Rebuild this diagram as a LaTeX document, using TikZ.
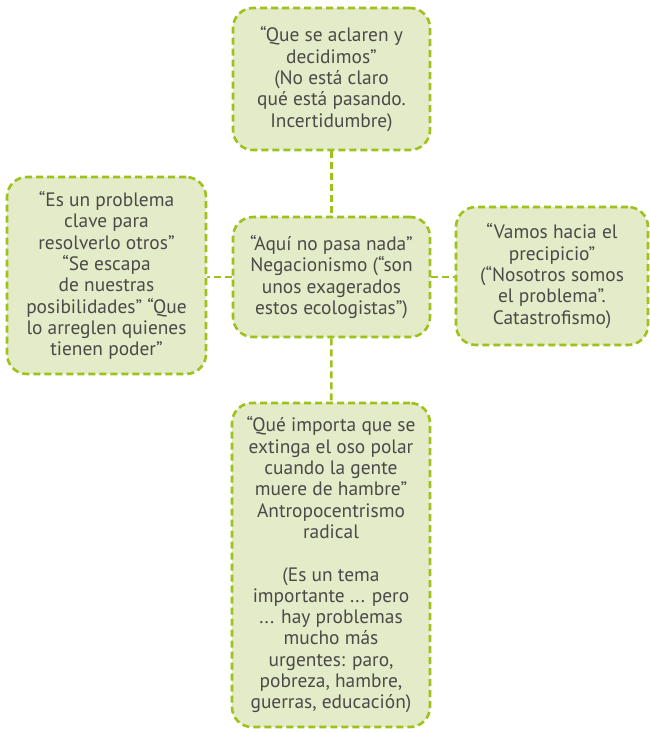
\documentclass[tikz,border=0pt]{standalone}
\usepackage{fontspec}
\setmainfont{PT Sans}
\definecolor{boxfill}{HTML}{E4EBC8}
\definecolor{boxline}{HTML}{9CC21B}
\definecolor{txt}{HTML}{4A4A48}
\begin{document}
\begin{tikzpicture}[x=1pt,y=-1pt,
  box/.style={draw=boxline, fill=boxfill, line width=2.6pt, dash pattern=on 7pt off 4pt,
    rounded corners=20pt, align=center, text=txt, inner sep=0pt,
    font=\fontsize{19.4}{21.3}\selectfont},
  link/.style={draw=boxline, line width=2.6pt, dash pattern=on 7pt off 4pt}]
\useasboundingbox (0,0) rectangle (650,732);
\node[box, minimum width=197pt, minimum height=142pt] (top) at (331.5,79)
  {“Que se aclaren y\\decidimos”\\(No está claro\\qué está pasando.\\Incertidumbre)};
\node[box, minimum width=197pt, minimum height=120pt] (mid) at (331.5,277)
  {“Aquí no pasa nada”\\Negacionismo (“son\\unos exagerados\\estos ecologistas”)};
\node[box, minimum width=199pt, minimum height=197pt] (left) at (106.5,275.5)
  {“Es un problema\\clave para\\resolverlo otros”\\“Se escapa\\de nuestras\\posibilidades” “Que\\lo arreglen quienes\\tienen poder”};
\node[box, minimum width=192pt, minimum height=138pt] (right) at (552,276)
  {“Vamos hacia el\\precipicio”\\(“Nosotros somos\\el problema”.\\Catastrofismo)};
\node[box, minimum width=198pt, minimum height=324pt] (bot) at (331,565)
  {“Qué importa que se\\extinga el oso polar\\cuando la gente\\muere de hambre”\\Antropocentrismo\\radical\\[21.3pt](Es un tema\\importante ... pero\\... hay problemas\\mucho más\\urgentes: paro,\\pobreza, hambre,\\guerras, educación)};
\draw[link] (top) -- (mid);
\draw[link] (mid) -- (bot);
\draw[link] (mid.west) -- (mid.west -| left.east);
\draw[link] (mid.east) -- (mid.east -| right.west);
\end{tikzpicture}
\end{document}
